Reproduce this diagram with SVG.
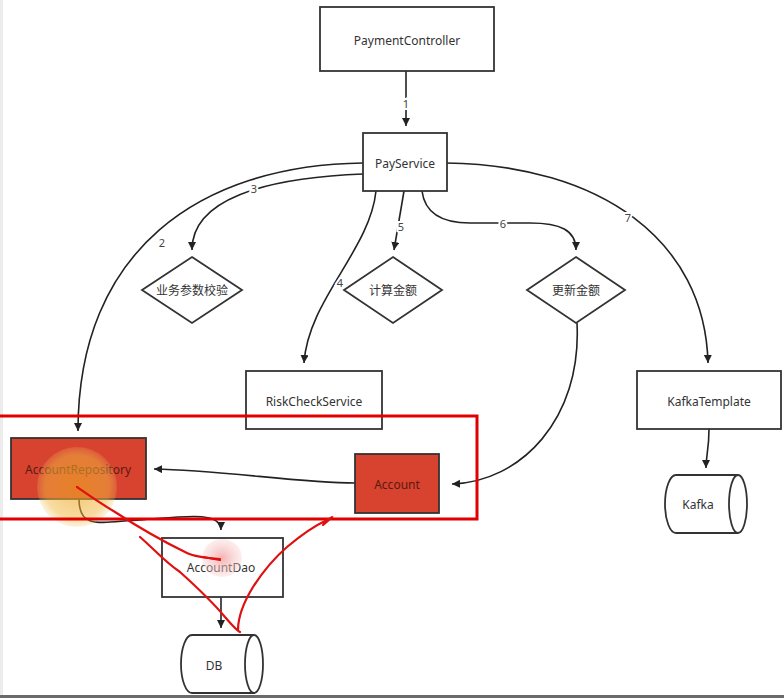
<svg xmlns="http://www.w3.org/2000/svg" width="784" height="698" viewBox="0 0 784 698">
<defs>
<style>
.box{fill:#fff;stroke:#333;stroke-width:1.8}
.red{fill:#D8432F;stroke:#333;stroke-width:1.8}
.t{font-family:"Noto Sans","Noto Sans CJK SC",sans-serif;font-size:12px;fill:#333;text-anchor:middle;dominant-baseline:central}
.rt{fill:#5a1a10}
.c{fill:none;stroke:#222;stroke-width:1.6}
.lbl{font-family:"Noto Sans",sans-serif;font-size:11px;fill:#444;text-anchor:middle;dominant-baseline:central;stroke:#fff;stroke-width:4;paint-order:stroke}
.scr{fill:none;stroke:#E01010;stroke-width:2.2;stroke-linecap:round;stroke-linejoin:round}
</style>
<marker id="ah" markerWidth="10" markerHeight="10" refX="8" refY="4" orient="auto" markerUnits="userSpaceOnUse">
<path d="M0,0 L8,4 L0,8 Z" fill="#222"/>
</marker>
<radialGradient id="pink" cx="0.5" cy="0.5" r="0.5">
<stop offset="0" stop-color="#F2A0A0" stop-opacity="0.8"/>
<stop offset="1" stop-color="#F6C8C8" stop-opacity="0.3"/>
</radialGradient>
<radialGradient id="orange" cx="0.5" cy="0.5" r="0.5">
<stop offset="0" stop-color="#F0A020" stop-opacity="0.65"/>
<stop offset="0.8" stop-color="#F0B840" stop-opacity="0.5"/>
<stop offset="1" stop-color="#F0C060" stop-opacity="0.2"/>
</radialGradient>
</defs>
<rect width="784" height="698" fill="#fff"/>
<rect x="0" y="0" width="3" height="695" fill="#ececec"/>
<rect x="0" y="695" width="784" height="3" fill="#6a6a6a"/>

<g id="connectors">
<path class="c" d="M406 71 L406 126" marker-end="url(#ah)"/>
<path class="c" d="M363 163 C200 165, 78 250, 78 431" marker-end="url(#ah)"/>
<path class="c" d="M363 174 C262 178, 192 200, 192 250" marker-end="url(#ah)"/>
<path class="c" d="M376 191 C370 250, 308 300, 304 363" marker-end="url(#ah)"/>
<path class="c" d="M404 191 L394 250" marker-end="url(#ah)"/>
<path class="c" d="M422 191 C425 215, 445 223, 470 223 L530 223 C560 223, 576 230, 576 250" marker-end="url(#ah)"/>
<path class="c" d="M446 163 C600 165, 705 240, 708 363" marker-end="url(#ah)"/>
<path class="c" d="M577 323 C582 420, 520 482, 452 484" marker-end="url(#ah)"/>
<path class="c" d="M355 483 C300 483, 220 470, 154 469" marker-end="url(#ah)"/>
<path class="c" d="M79 499 C79 530, 100 522, 140 520 C180 517, 221 510, 221 530" marker-end="url(#ah)"/>
<path class="c" d="M221 597 L221 628" marker-end="url(#ah)"/>
<path class="c" d="M709 429 C709 450, 706 455, 706 468" marker-end="url(#ah)"/>
<text class="lbl" x="406" y="103">1</text>
<text class="lbl" x="162" y="242">2</text>
<text class="lbl" x="254" y="188">3</text>
<text class="lbl" x="340" y="282">4</text>
<text class="lbl" x="401" y="226">5</text>
<text class="lbl" x="503" y="223">6</text>
<text class="lbl" x="628" y="217">7</text>
</g>

<g id="PaymentController"><rect class="box" x="320" y="7" width="174" height="64"/><text class="t" x="407" y="40">PaymentController</text></g>
<g id="PayService"><rect class="box" x="363" y="133" width="84" height="58"/><text class="t" x="405" y="163">PayService</text></g>
<g id="check"><path class="box" d="M192 257 L242 290 L192 323 L142 290 Z"/><text class="t" x="192" y="290">业务参数校验</text></g>
<g id="calc"><path class="box" d="M393 257 L442 290 L393 323 L344 290 Z"/><text class="t" x="393" y="290">计算金额</text></g>
<g id="update"><path class="box" d="M576 257 L625 290 L576 323 L527 290 Z"/><text class="t" x="576" y="290">更新金额</text></g>
<g id="RiskCheckService"><rect class="box" x="246" y="371" width="136" height="58"/><text class="t" x="314" y="401">RiskCheckService</text></g>
<g id="KafkaTemplate"><rect class="box" x="637" y="371" width="144" height="58"/><text class="t" x="709" y="401">KafkaTemplate</text></g>
<g id="Kafka"><path class="box" d="M676 475 L738 475 A9 29 0 0 1 738 533 L676 533 A11 29 0 0 1 676 475 Z"/><path class="box" d="M738 475 A9 29 0 0 0 738 533" fill="none"/><text class="t" x="698" y="504">Kafka</text></g>
<g id="AccountRepository"><rect class="red" x="11" y="438" width="135" height="61"/><text class="t rt" x="78" y="469">AccountRepository</text></g>
<g id="Account"><rect class="red" x="355" y="454" width="84" height="59"/><text class="t rt" x="397" y="484">Account</text></g>
<g id="AccountDao"><rect class="box" x="162" y="538" width="121" height="59"/><text class="t" x="221" y="567">AccountDao</text></g>
<g id="DB"><path class="box" d="M192 635 L254 635 A9 29 0 0 1 254 693 L192 693 A11 29 0 0 1 192 635 Z"/><path class="box" d="M254 635 A9 29 0 0 0 254 693" fill="none"/><text class="t" x="214" y="665">DB</text></g>

<g id="annotations">
<ellipse cx="77" cy="487" rx="40" ry="40" fill="url(#orange)"/>
<ellipse cx="222" cy="558" rx="20" ry="19" fill="url(#pink)"/>
<rect x="-5" y="416" width="482" height="103" fill="none" stroke="#E00000" stroke-width="3"/>
<path class="scr" d="M77 487 C90 496, 100 503, 115 512 C135 525, 160 540, 187 553 C195 557, 205 558, 220 559"/>
<path class="scr" d="M203 557 L220 560"/>
<path class="scr" d="M140 537 C155 550, 165 562, 180 572 C200 590, 215 605, 225 617 C232 625, 236 630, 240 632"/>
<path class="scr" d="M238 630 C238 620, 242 605, 253 587 C262 573, 272 560, 287 547 C300 536, 312 527, 327 520 C331 518, 333 517, 332 517 C328 521, 324 524, 323 525"/>
</g>
</svg>
